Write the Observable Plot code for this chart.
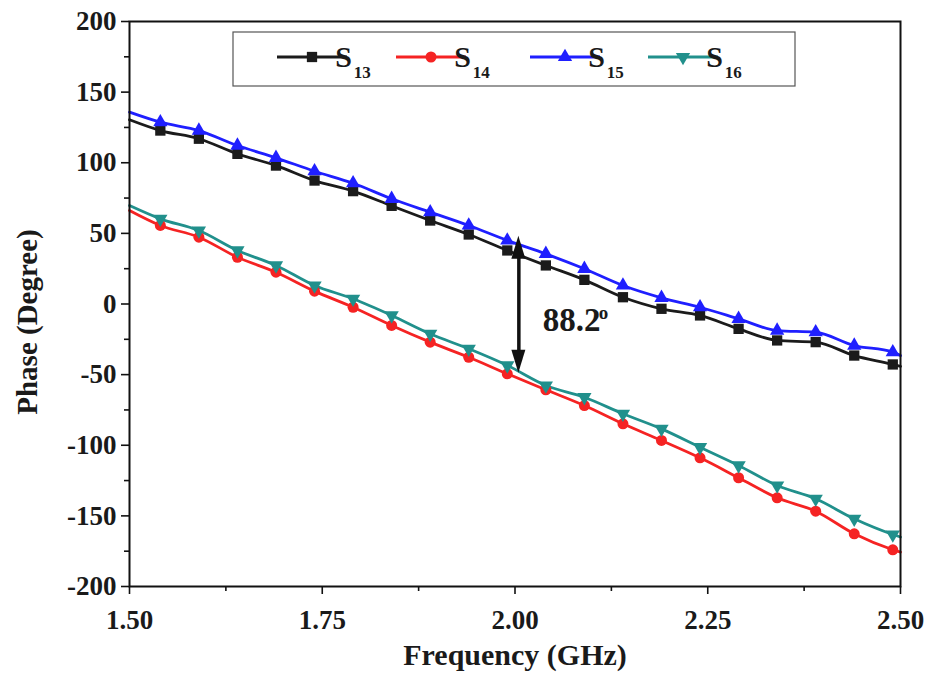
<!DOCTYPE html>
<html>
<head>
<meta charset="utf-8">
<script src="https://cdn.jsdelivr.net/npm/d3@7"></script>
<script src="https://cdn.jsdelivr.net/npm/@observablehq/plot@0.6"></script>
<style>
  html, body { margin: 0; padding: 0; background: #ffffff; }
  #chart { width: 929px; height: 676px; }
</style>
</head>
<body>
<div id="chart"></div>
<script>
// ---------------- data ----------------
const markerFreq = [1.54, 1.59, 1.64, 1.69, 1.74, 1.79, 1.84, 1.89, 1.94, 1.99,
                    2.04, 2.09, 2.14, 2.19, 2.24, 2.29, 2.34, 2.39, 2.44, 2.49];
const edgeFreq = [1.50, 2.50];

const seriesNames = ["S13", "S14", "S15", "S16"];
const seriesSub = ["13", "14", "15", "16"];

const s13 = [122.8, 117.0, 106.3, 98.0, 87.4, 79.9, 69.5, 59.1, 49.2, 37.9,
             27.3, 17.1, 4.8, -3.4, -8.1, -17.6, -25.8, -27.0, -36.5, -42.8];
const s13Edges = [130.4, -44.2];

const s14 = [55.6, 47.3, 33.1, 22.5, 9.1, -2.3, -15.2, -27.0, -37.7, -49.4,
             -60.7, -71.9, -84.8, -96.6, -108.9, -123.0, -137.2, -146.7, -162.7, -174.0];
const s14Edges = [66.2, -175.7];

const s15 = [128.7, 122.8, 112.2, 103.5, 94.0, 85.5, 74.5, 65.0, 55.6, 45.0,
             35.5, 24.9, 13.1, 4.4, -2.3, -10.5, -18.8, -20.0, -29.4, -34.1];
const s15Edges = [135.8, -36.5];

const s16 = [60.3, 52.0, 37.9, 27.3, 13.1, 3.7, -8.1, -21.1, -31.7, -43.5,
             -57.7, -66.0, -77.7, -88.4, -101.4, -114.3, -128.5, -137.9, -152.1, -163.2];
const s16Edges = [69.7, -165.0];

const xTicks = [1.50, 1.75, 2.00, 2.25, 2.50];
const xMinorTicks = [1.625, 1.875, 2.125, 2.375];
const yTicks = [-200, -150, -100, -50, 0, 50, 100, 150, 200];
const yMinorTicks = [-175, -125, -75, -25, 25, 75, 125, 175];

const arrowFreq = [2.005];
const arrowTop = [48];
const arrowBottom = [-49];
const angleText = ["88.2"];
const angleSup = ["o"];

const xTitle = ["Frequency (GHz)"];
const yTitle = ["Phase (Degree)"];

// ---------------- styles ----------------
const colors = ["#1b1b1b", "#f52323", "#1f1fff", "#21908c"];
const symbols = ["square", "circle", "triangle", "triangle"];
const rotations = [0, 0, 0, 180];
const radii = [5.8, 5.5, 5.3, 5.3];
const FONT = "'Liberation Serif', 'Times New Roman', serif";

const allValues = [s13, s14, s15, s16];
const allEdges = [s13Edges, s14Edges, s15Edges, s16Edges];

const lineRows = [];
const dotRows = [];
seriesNames.forEach((name, k) => {
  lineRows.push({k: name, f: edgeFreq[0], v: allEdges[k][0]});
  markerFreq.forEach((f, i) => {
    lineRows.push({k: name, f, v: allValues[k][i]});
    dotRows.push({k: name, f, v: allValues[k][i]});
  });
  lineRows.push({k: name, f: edgeFreq[1], v: allEdges[k][1]});
});

const marks = [
  // lines
  ...seriesNames.map((name, k) => Plot.line(lineRows.filter(d => d.k === name), {
    x: "f", y: "v", stroke: colors[k], strokeWidth: 2.8, curve: "monotone-x"
  })),
  // markers
  ...seriesNames.map((name, k) => Plot.dot(dotRows.filter(d => d.k === name), {
    x: "f", y: "v", symbol: symbols[k], r: radii[k], fill: colors[k], stroke: "none",
    rotate: rotations[k]
  })),
  // annotation arrow shaft
  Plot.ruleX(arrowFreq, {x: d => d, y1: () => arrowTop[0] - 8, y2: () => arrowBottom[0] + 8,
    stroke: "#111", strokeWidth: 3.5}),
  Plot.text(angleText, {x: () => arrowFreq[0], y: () => (arrowTop[0] + arrowBottom[0]) / 2,
    text: d => d, textAnchor: "start", dx: 24, dy: 16, fontSize: 33, fontWeight: "bold",
    fontFamily: FONT, fill: "#1a1a1a"}),
  Plot.text(angleSup, {x: () => arrowFreq[0], y: () => (arrowTop[0] + arrowBottom[0]) / 2,
    text: d => d, textAnchor: "start", dx: 80, dy: 8, fontSize: 19, fontWeight: "bold",
    fontFamily: FONT, fill: "#1a1a1a"}),
  // axes
  Plot.axisX({ticks: xTicks, tickSize: 8, tickPadding: 15, tickFormat: d3.format(".2f"),
    fontSize: 27, fontWeight: "bold", fontFamily: FONT, stroke: "#111", strokeWidth: 1.6, fill: "#1a1a1a"}),
  Plot.axisX({ticks: xMinorTicks, tickSize: 5, text: null, stroke: "#111", strokeWidth: 1.6}),
  Plot.axisY({ticks: yTicks, tickSize: 8, tickPadding: 5, tickFormat: d => String(d),
    fontSize: 27, fontWeight: "bold", fontFamily: FONT, stroke: "#111", strokeWidth: 1.6, fill: "#1a1a1a"}),
  Plot.axisY({ticks: yMinorTicks, tickSize: 5, text: null, stroke: "#111", strokeWidth: 1.6}),
  Plot.frame({stroke: "#111", strokeWidth: 2}),
  // axis titles
  Plot.text(xTitle, {frameAnchor: "bottom", textAnchor: "middle", text: d => d, dy: 78, fontSize: 30,
    fontWeight: "bold", fontFamily: FONT, fill: "#1a1a1a"}),
  Plot.text(yTitle, {frameAnchor: "left", textAnchor: "middle", text: d => d, dx: -102, dy: 18,
    rotate: -90, fontSize: 29, fontWeight: "bold", fontFamily: FONT, fill: "#1a1a1a"})
];

const plot = Plot.plot({
  width: 929,
  height: 676,
  marginLeft: 129,
  marginRight: 29,
  marginTop: 21,
  marginBottom: 90,
  style: {background: "#ffffff", fontFamily: FONT, overflow: "visible"},
  x: {domain: [1.5, 2.5], label: null},
  y: {domain: [-200, 200], label: null},
  marks
});
document.getElementById("chart").appendChild(plot);

// ---------------- arrow heads & legend (drawn on top) ----------------
const svg = d3.select(plot);
const xs = plot.scale("x"), ys = plot.scale("y");
const ax = xs.apply(arrowFreq[0]);
const aTop = ys.apply(arrowTop[0]);
const aBot = ys.apply(arrowBottom[0]);
const headL = 23, headW = 7;
svg.append("path")
  .attr("d", `M${ax},${aTop}L${ax - headW},${aTop + headL}L${ax + headW},${aTop + headL}Z`)
  .attr("fill", "#111");
svg.append("path")
  .attr("d", `M${ax},${aBot}L${ax - headW},${aBot - headL}L${ax + headW},${aBot - headL}Z`)
  .attr("fill", "#111");

// legend
const lg = svg.append("g").attr("aria-label", "legend");
lg.append("rect").attr("x", 233).attr("y", 32).attr("width", 562).attr("height", 54)
  .attr("fill", "#ffffff").attr("stroke", "#555").attr("stroke-width", 1.2);
const itemX = [277, 396, 530, 648];
const lineLen = 70, ly = 57;
seriesNames.forEach((name, k) => {
  const x0 = itemX[k];
  lg.append("line").attr("x1", x0).attr("x2", x0 + lineLen).attr("y1", ly).attr("y2", ly)
    .attr("stroke", colors[k]).attr("stroke-width", 2.8);
  const sym = symbols[k] === "square" ? d3.symbolSquare : symbols[k] === "circle" ? d3.symbolCircle : d3.symbolTriangle;
  lg.append("path").attr("d", d3.symbol(sym, Math.PI * radii[k] * radii[k])())
    .attr("transform", `translate(${x0 + lineLen / 2},${ly}) rotate(${rotations[k]})`)
    .attr("fill", colors[k]);
  const t = lg.append("text").attr("x", x0 + lineLen + 6).attr("y", 67)
    .attr("font-family", FONT).attr("font-weight", "bold").attr("font-size", 30).attr("fill", "#1a1a1a");
  t.append("tspan").text("S");
  t.append("tspan").attr("font-size", 17).attr("dx", 2).attr("dy", 11).text(seriesSub[k]);
});
</script>
</body>
</html>
